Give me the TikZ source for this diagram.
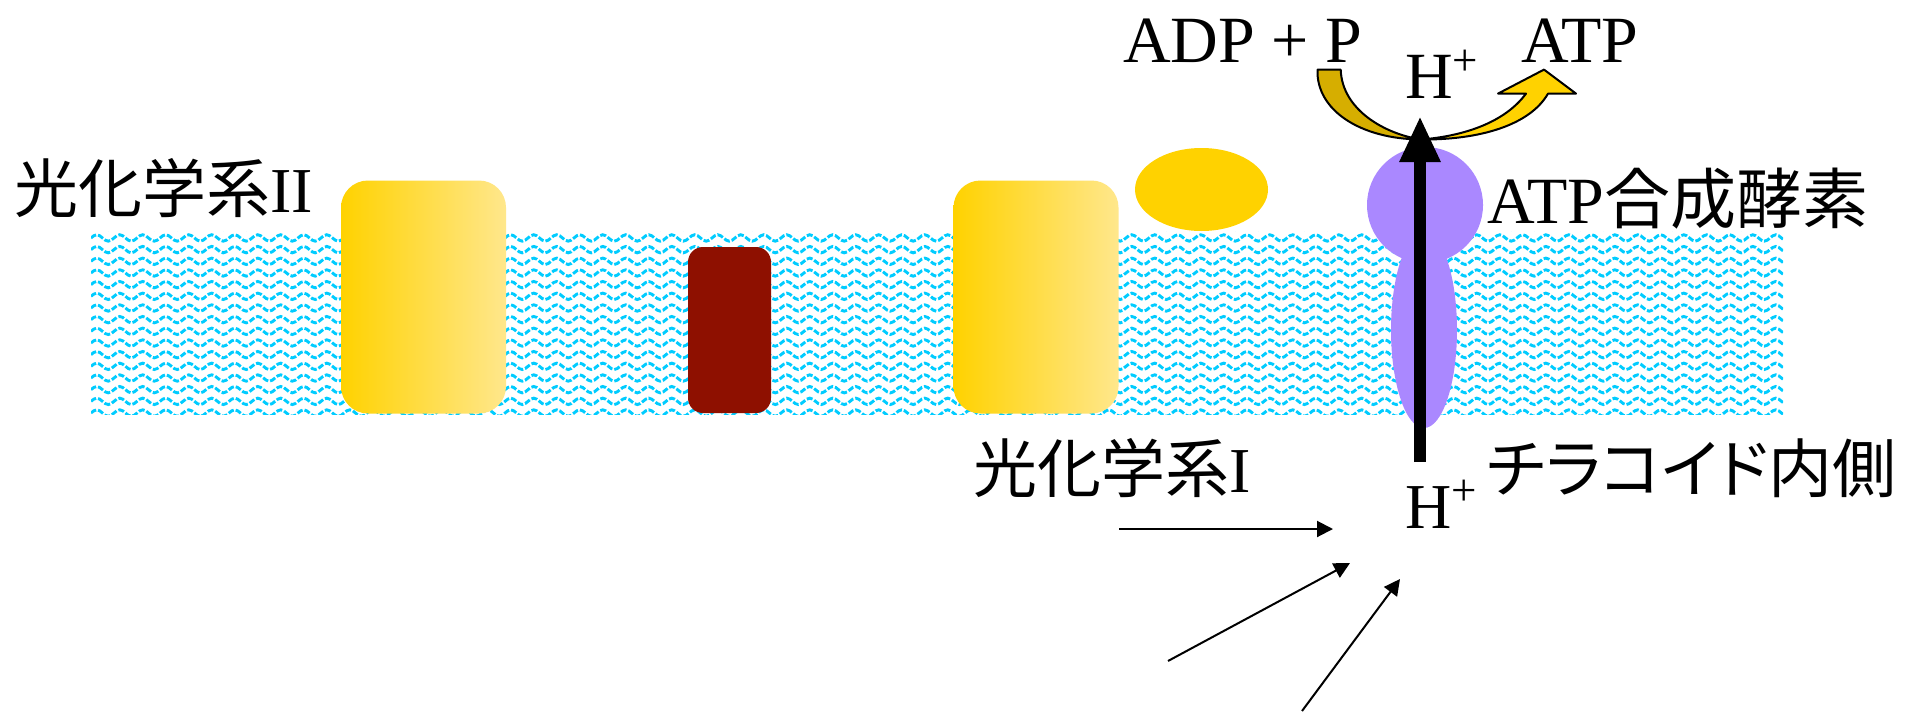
\documentclass[tikz,border=0pt]{standalone}
\usepackage{fontspec}
\setmainfont{Liberation Serif}
\newfontfamily\jpfont{Noto Sans CJK JP}
\newfontfamily\jppfont[RawFeature=+palt]{Noto Sans CJK JP}
\usetikzlibrary{arrows.meta,shapes.geometric}

\definecolor{lipid}{RGB}{0,204,255}
\definecolor{gold}{RGB}{255,210,0}
\definecolor{paleGold}{RGB}{255,231,140}
\definecolor{darkGold}{RGB}{214,174,0}
\definecolor{cytb}{RGB}{142,16,0}
\definecolor{synth}{RGB}{170,136,255}

\tikzset{
  wave/.style={draw=lipid, line width=2.9pt, dash pattern=on 6pt off 2pt},
  psbox/.style={rectangle, rounded corners=27pt, inner sep=0pt,
    left color=gold, right color=paleGold, draw=none,
    minimum width=165pt, minimum height=233pt},
  lbl/.style={inner sep=0pt, anchor=base west, font=\fontsize{64}{70}\selectfont},
  bigtxt/.style={inner sep=0pt, anchor=base west, font=\fontsize{66}{72}\selectfont},
  thin arrow/.style={line width=2pt, -{Triangle[length=16pt,width=16pt]}},
  proton arrow/.style={line width=12pt, -{Triangle[length=46pt,width=38pt]}},
  curl/.style={draw=black, line width=2pt, line join=round}
}

\newcommand{\hplus}{H\raisebox{23pt}{\fontsize{45}{45}\selectfont +}}

\begin{document}
\begin{tikzpicture}[x=1pt, y=-1pt]
  \useasboundingbox[fill=white] (0,0) rectangle (1908,712);

  % thylakoid membrane: rows of wavy lipid lines
  \begin{scope}
    \clip (91,231) rectangle (1783,414);
    \foreach \k in {0,...,16} {
      \draw[wave] (91,{226.3+11.67*\k})
        \foreach \i in {1,...,74} {
          sin ++(5.75,-3.2) cos ++(5.75,3.2) sin ++(5.75,3.2) cos ++(5.75,-3.2)
        };
    }
  \end{scope}

  % membrane complexes
  \node[psbox] (ps2) at (423.5,297) {};
  \node[rectangle, rounded corners=15pt, fill=cytb, inner sep=0pt,
        minimum width=83pt, minimum height=166pt] (cyt) at (729.5,330) {};
  \node[psbox] (ps1) at (1036,297) {};
  \node[ellipse, fill=gold, inner sep=0pt,
        minimum width=133pt, minimum height=83pt] (fd) at (1201.5,189.5) {};

  % ATP synthase: head and membrane stalk
  \node[ellipse, fill=synth, inner sep=0pt,
        minimum width=66pt, minimum height=196pt] (stalk) at (1424,330) {};
  \node[circle, fill=synth, inner sep=0pt, minimum size=116pt] (head) at (1425,205) {};

  % ADP + P consumed, ATP released
  \path[curl, fill=darkGold]
    (1317.5,69.6) .. controls (1316,110) and (1360,139) .. (1421,139.5)
    .. controls (1385,134) and (1342,110) .. (1340.7,69.6) -- cycle;
  \path[curl, fill=gold]
    (1421,139.5) .. controls (1480,140) and (1530,125) .. (1548,93.6)
    -- (1576,93.6) -- (1544,69.6) -- (1498,93.6) -- (1526,93.6)
    .. controls (1505,122) and (1465,136) .. (1421,139.5) -- cycle;

  % proton flow through the synthase
  \coordinate (hin) at (1420,462);
  \coordinate (hout) at (1420,116);
  \draw[proton arrow] (hin) -- (hout);

  % labels
  \node[lbl] (lps2) at (14,212) {{\jpfont 光化学系}II};
  \node[lbl] (lps1) at (973,492) {{\jpfont 光化学系}I};
  \node[lbl, font=\fontsize{66}{72}\selectfont] (lsyn) at (1487,223) {ATP{\jpfont 合成酵素}};
  \node[lbl] (lin) at (1487,492) {\jppfont チラコイド内側};
  \node[bigtxt] (adp) at (1123,62) {ADP + P};
  \node[bigtxt] (atp) at (1521,62) {ATP};
  \node[bigtxt] (htop) at (1405,98) {\hplus};
  \node[lbl] (hbot) at (1405,528) {\hplus};

  % protons gathering in the lumen
  \coordinate (a1s) at (1119,529);
  \coordinate (a1e) at (1333,529);
  \coordinate (a2s) at (1168,661);
  \coordinate (a2e) at (1350,563);
  \coordinate (a3s) at (1302,711);
  \coordinate (a3e) at (1400,579);
  \draw[thin arrow] (a1s) -- (a1e);
  \draw[thin arrow] (a2s) -- (a2e);
  \draw[thin arrow] (a3s) -- (a3e);
\end{tikzpicture}
\end{document}
